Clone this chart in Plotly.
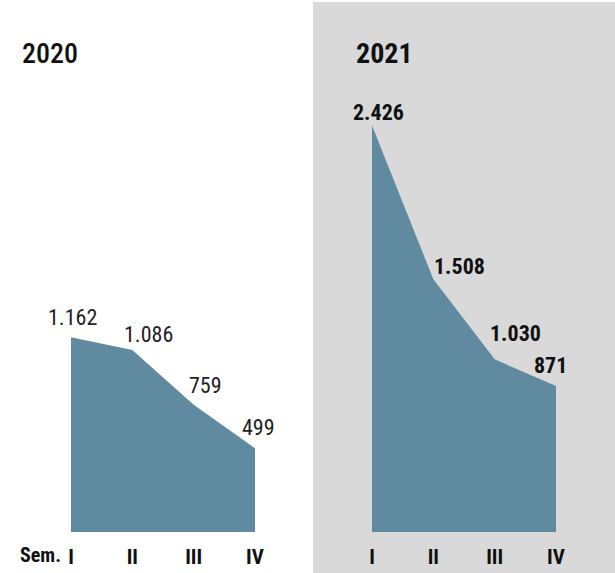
import plotly.graph_objects as go

semesters = ["I", "II", "III", "IV"]
values_2020 = [1162, 1086, 759, 499]
values_2021 = [2426, 1508, 1030, 871]
labels_2020 = ["1.162", "1.086", "759", "499"]
labels_2021 = ["2.426", "1.508", "1.030", "871"]

W, H = 615, 573
FONT = "Noto Sans Condensed, Roboto Condensed, Liberation Sans Narrow, Noto Sans"
FILL = "#5f8aa0"
xs = list(range(len(semesters)))

def f(size, weight="normal", color="#111"):
    return dict(family=FONT, size=size, color=color, weight=weight)

fig = go.Figure()
fig.add_trace(go.Scatter(x=xs, y=values_2020, mode="lines", fill="tozeroy",
                         fillcolor=FILL, line=dict(width=0, color=FILL),
                         xaxis="x", yaxis="y", hoverinfo="skip"))
fig.add_trace(go.Scatter(x=xs, y=values_2021, mode="lines", fill="tozeroy",
                         fillcolor=FILL, line=dict(width=0, color=FILL),
                         xaxis="x2", yaxis="y2", hoverinfo="skip"))

y_bottom = 1 - 532 / H
ymax = 532 / 0.1676
common_x = dict(range=[0, 3], tickvals=xs, ticktext=semesters, showgrid=False,
                zeroline=False, showline=False, ticks="", automargin=False,
                tickfont=f(21, "bold"),
                ticklabelstandoff=10, fixedrange=True)
common_y = dict(range=[0, ymax], domain=[y_bottom, 1], visible=False,
                automargin=False, showgrid=False, zeroline=False, fixedrange=True)

fig.update_layout(
    width=W, height=H, autosize=False,
    margin=dict(l=0, r=0, t=0, b=0, pad=0, autoexpand=False),
    paper_bgcolor="white", plot_bgcolor="rgba(0,0,0,0)", showlegend=False,
    xaxis=dict(domain=[71 / W, 255 / W], anchor="y", **common_x),
    yaxis=dict(anchor="x", **common_y),
    xaxis2=dict(domain=[372 / W, 556 / W], anchor="y2", **common_x),
    yaxis2=dict(anchor="x2", **common_y),
    shapes=[dict(type="rect", xref="paper", yref="paper", x0=313 / W, x1=1,
                 y0=0, y1=1 - 2 / H, fillcolor="#d9d9d9", line=dict(width=0),
                 layer="below")],
)

ann = []
ann.append(dict(text="2020", xref="paper", yref="paper", x=20 / W, y=1 - 53 / H,
                xanchor="left", yanchor="middle", showarrow=False, font=f(28, 500)))
ann.append(dict(text="2021", xref="paper", yref="paper", x=354 / W, y=1 - 53 / H,
                xanchor="left", yanchor="middle", showarrow=False, font=f(28, "bold")))
ann.append(dict(text="Sem.", xref="paper", yref="paper", x=18 / W, y=1 - 555 / H,
                xanchor="left", yanchor="middle", showarrow=False, font=f(20, "bold")))

shifts_2020 = [(1, 5), (16, 1), (12, 5), (3, 6)]
for i, (v, t) in enumerate(zip(values_2020, labels_2020)):
    dx, dy = shifts_2020[i]
    ann.append(dict(text=t, x=i, y=v, xref="x", yref="y", showarrow=False,
                    xanchor="center", yanchor="bottom", xshift=dx, yshift=dy,
                    font=f(22, "normal", "#222")))
shifts_2021 = [(6, -2), (26, -2), (21, 11), (-6, 6)]
for i, (v, t) in enumerate(zip(values_2021, labels_2021)):
    dx, dy = shifts_2021[i]
    ann.append(dict(text=t, x=i, y=v, xref="x2", yref="y2", showarrow=False,
                    xanchor="center", yanchor="bottom", xshift=dx, yshift=dy,
                    font=f(22, "bold")))
fig.update_layout(annotations=ann)

css_js = (
    "document.body.style.margin='0';"
    "document.body.style.overflow='hidden';"
    "document.documentElement.style.overflow='hidden';"
    "var st=document.createElement('style');"
    "st.textContent='svg text{font-stretch:condensed !important;}';"
    "document.head.appendChild(st);"
)
fig.write_html("out.html", post_script=css_js,
               config={"responsive": False, "displayModeBar": False, "staticPlot": True})
